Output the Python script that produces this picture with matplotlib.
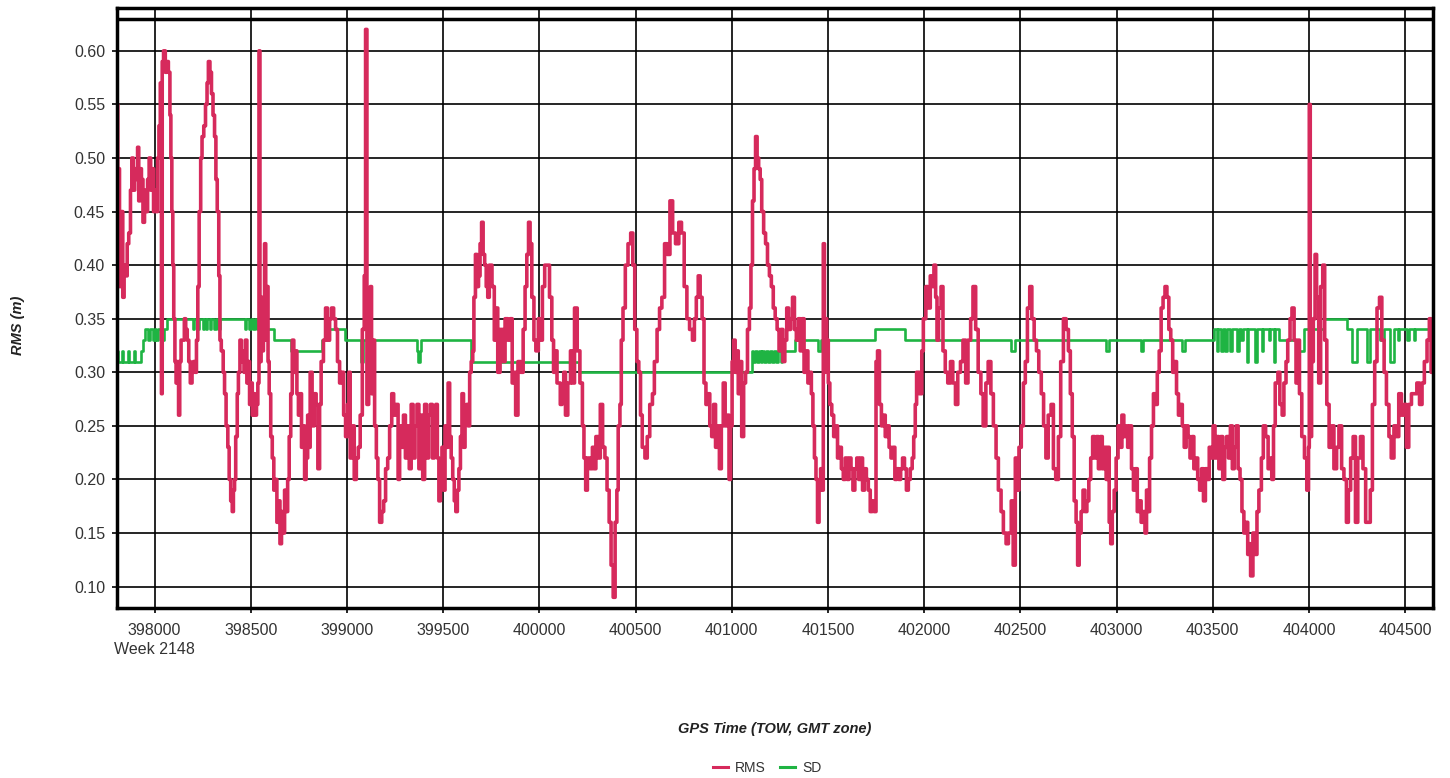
import numpy as np
import matplotlib
matplotlib.use("Agg")
import matplotlib.pyplot as plt
from matplotlib.lines import Line2D

plt.rcParams['font.family'] = ['Liberation Sans', 'DejaVu Sans']

# ---------------- data ----------------
rms_time = [
397807,397809,397812,397818,397825,397829,397835,397842,397850,397858,397866,397875,397882,397890,397897,397905,397912,397918,397925,397932,
397940,397948,397956,397964,397972,397980,397988,397995,398003,398009,398016,398023,398030,398036,398040,398047,398056,398064,398072,398080,
398085,398090,398095,398100,398106,398112,398118,398125,398131,398138,398148,398155,398162,398170,398178,398186,398195,398202,398210,398218,
398225,398232,398240,398247,398256,398265,398273,398280,398288,398296,398304,398312,398319,398326,398334,398340,398347,398357,398364,398372,
398381,398388,398396,398404,398410,398416,398422,398430,398436,398444,398451,398458,398465,398472,398480,398487,398494,398501,398508,398515,
398522,398530,398537,398543,398548,398554,398560,398566,398572,398578,398584,398590,398596,398604,398612,398620,398628,398636,398644,398652,
398660,398668,398676,398684,398692,398700,398708,398716,398724,398732,398740,398748,398756,398764,398772,398780,398788,398796,
398800,398809,398819,398830,398840,398849,398858,398866,398878,398889,398899,398910,398920,398931,398941,398951,398962,398972,398983,398993,
399003,399010,399017,399028,399038,399049,399059,399069,399080,399090,399097,399104,399113,399122,399128,399135,399144,399153,399161,399170,
399181,399191,399201,399212,399222,399233,399243,399255,399266,399274,399284,399294,399304,399314,399324,399334,399344,399354,399364,399374,
399384,399394,399404,399414,399424,399434,399444,399454,399462,399470,399478,399486,399494,399502,399510,399518,399526,399534,399542,399550,
399558,399566,399574,399582,399590,399598,399606,399614,399622,399630,399638,399646,399654,399660,399668,399676,399684,399692,399700,399708,
399716,399724,399732,
399740,399754,399766,399775,399784,399796,399810,399822,399836,399849,399859,399870,399877,399889,399903,399916,399926,399935,399944,399952,
399961,399972,399982,399995,400004,400016,400028,400042,400053,400065,400074,400083,400092,400109,400118,400127,400136,400148,400162,400171,
400183,400197,400211,400224,400232,400241,400250,400264,400276,400285,400294,400306,400317,400329,400341,400352,400363,400373,400384,400394,
400403,400410,400419,400426,400435,400447,400461,400475,400486,400496,400507,400517,400526,400535,400549,400561,400574,400588,400598,400612,
400625,400637,400651,400665,400679,400693,400708,400725,400739,400753,400767,400781,400796,
400806,400816,400826,400836,400846,400856,400866,400876,400886,400896,400906,400916,400926,400936,400946,400956,400966,400976,400986,400994,
401002,401010,401018,401026,401034,401044,401052,401062,401072,401082,401092,401100,401108,401116,401124,401132,401140,401148,401156,401166,
401176,401186,401196,401206,401216,401226,401236,401246,401256,401266,401276,401286,401296,401306,401316,401326,401336,401346,401356,401366,
401376,401386,401396,401406,401414,401422,401430,401438,401446,401454,401462,401470,401476,401482,401488,401494,401502,401510,401520,401530,
401540,401550,401560,401570,401580,401590,401600,401610,401620,401630,401640,401650,401660,401670,401680,401690,401700,401710,401720,401730,
401740,401750,
401758,401768,401778,401788,401798,401808,401818,401828,401838,401848,401858,401868,401878,401888,401898,401908,401918,401928,401938,401946,
401954,401961,401975,401988,401996,402009,402019,402032,402042,402051,402060,402067,402075,402088,402098,402110,402123,402137,402149,402163,
402175,402189,402202,402216,402228,402242,402254,402268,402281,402295,402307,402321,402333,402347,402360,402374,402386,402400,402412,402426,
402438,402453,402463,402474,402482,402493,402505,402516,402526,402537,402549,402560,402572,402584,402596,402609,402621,402633,402645,402660,
402672,402684,402698,402710,402724,402738,402750,
402760,402770,402780,402790,402798,402806,402816,402826,402836,402846,402856,402866,402876,402886,402896,402906,402916,402926,402936,402946,
402954,402962,402970,402978,402988,402998,403008,403018,403028,403038,403048,403058,403068,403078,403088,403098,403108,403118,403128,403138,
403148,403156,403164,403172,403182,403192,403202,403212,403222,403232,403242,403252,403262,403272,403282,403292,403302,403312,403322,403332,
403342,403352,403362,403372,403382,403392,403402,403412,403422,403432,403442,403452,403462,403472,403482,403492,403502,403512,403522,403532,
403542,403552,403562,403572,403582,403592,403602,403612,403622,403632,403642,403652,403662,403672,403682,
403688,403697,403709,403720,403730,403740,403753,403763,403775,403788,403798,403807,403816,403825,403839,403849,403861,403870,403881,403890,
403902,403912,403923,403933,403942,403951,403963,403977,403989,403998,404002,404007,404014,404023,404032,404040,404051,404061,404072,404082,
404093,404105,404118,404130,404144,404156,404170,404182,404195,404205,404217,404230,404242,404254,404268,404281,404295,404307,404319,404330,
404342,404354,404367,404379,404391,404403,404416,404428,404442,404454,404467,404481,404495,404507,404519,404533,404547,404561,404575,404588,
404600,404614,404626,404635,404642,
]

rms_value = [
0.55,0.42,0.49,0.38,0.44,0.45,0.37,0.40,0.39,0.42,0.43,0.47,0.50,0.47,0.49,0.48,0.51,0.46,0.49,0.48,
0.44,0.47,0.45,0.48,0.50,0.47,0.49,0.45,0.47,0.45,0.50,0.53,0.57,0.28,0.59,0.60,0.58,0.59,0.58,0.54,
0.50,0.45,0.40,0.35,0.31,0.29,0.31,0.26,0.31,0.33,0.33,0.35,0.34,0.33,0.31,0.29,0.30,0.31,0.30,0.33,
0.38,0.45,0.50,0.52,0.53,0.55,0.57,0.59,0.58,0.56,0.54,0.52,0.48,0.45,0.39,0.33,0.32,0.30,0.28,0.25,
0.23,0.20,0.18,0.17,0.19,0.20,0.24,0.28,0.30,0.33,0.31,0.32,0.30,0.33,0.29,0.31,0.27,0.29,0.26,0.28,
0.26,0.27,0.29,0.60,0.31,0.37,0.32,0.35,0.42,0.33,0.38,0.31,0.28,0.24,0.22,0.19,0.20,0.16,0.18,0.14,
0.17,0.15,0.19,0.17,0.20,0.24,0.28,0.33,0.30,0.32,0.28,0.26,0.28,0.23,0.25,0.20,0.22,0.26,
0.23,0.30,0.25,0.28,0.27,0.21,0.27,0.31,0.33,0.36,0.33,0.35,0.36,0.35,0.34,0.31,0.29,0.30,0.26,0.24,
0.27,0.30,0.22,0.25,0.20,0.22,0.23,0.26,0.34,0.39,0.62,0.27,0.35,0.38,0.28,0.33,0.25,0.22,0.20,0.16,
0.17,0.18,0.21,0.22,0.25,0.28,0.26,0.27,0.20,0.25,0.23,0.26,0.22,0.25,0.21,0.27,0.22,0.25,0.27,0.21,
0.26,0.20,0.27,0.22,0.26,0.27,0.22,0.26,0.27,0.22,0.18,0.21,0.23,0.19,0.25,0.23,0.29,0.24,0.22,0.20,
0.18,0.17,0.19,0.21,0.24,0.28,0.23,0.26,0.27,0.25,0.30,0.31,0.32,0.37,0.41,0.38,0.39,0.42,0.44,0.41,
0.40,0.38,0.37,
0.40,0.38,0.33,0.36,0.30,0.34,0.31,0.35,0.33,0.35,0.29,0.30,0.26,0.31,0.30,0.34,0.38,0.41,0.44,0.42,
0.37,0.33,0.32,0.35,0.33,0.38,0.40,0.40,0.37,0.33,0.30,0.32,0.29,0.27,0.28,0.30,0.26,0.29,0.32,0.29,
0.36,0.32,0.29,0.25,0.22,0.19,0.22,0.21,0.23,0.21,0.24,0.22,0.27,0.23,0.22,0.19,0.16,0.12,0.09,0.16,
0.19,0.25,0.27,0.33,0.36,0.40,0.42,0.43,0.40,0.34,0.31,0.30,0.26,0.23,0.22,0.24,0.27,0.28,0.31,0.34,
0.36,0.37,0.42,0.41,0.46,0.43,0.42,0.44,0.43,0.38,0.35,0.34,0.33,
0.35,0.37,0.39,0.37,0.35,0.29,0.27,0.28,0.25,0.24,0.27,0.23,0.25,0.21,0.25,0.29,0.25,0.26,0.20,0.25,
0.31,0.33,0.30,0.32,0.28,0.31,0.24,0.29,0.30,0.34,0.36,0.40,0.46,0.49,0.52,0.50,0.49,0.48,0.45,0.43,
0.42,0.40,0.39,0.38,0.36,0.35,0.34,0.32,0.34,0.31,0.33,0.36,0.34,0.35,0.37,0.34,0.33,0.35,0.32,0.35,
0.30,0.32,0.29,0.30,0.28,0.25,0.22,0.20,0.16,0.19,0.21,0.19,0.42,0.30,0.35,0.33,0.29,0.27,0.26,0.24,
0.25,0.22,0.23,0.21,0.20,0.22,0.20,0.22,0.21,0.19,0.21,0.22,0.20,0.22,0.19,0.21,0.20,0.19,0.17,0.18,
0.17,0.31,
0.32,0.27,0.25,0.26,0.24,0.25,0.23,0.22,0.23,0.20,0.21,0.20,0.21,0.22,0.21,0.19,0.20,0.21,0.22,0.24,
0.27,0.30,0.28,0.32,0.35,0.38,0.36,0.39,0.38,0.40,0.37,0.33,0.36,0.38,0.32,0.30,0.29,0.31,0.29,0.27,
0.30,0.31,0.33,0.29,0.33,0.35,0.38,0.34,0.30,0.28,0.25,0.29,0.31,0.28,0.25,0.22,0.19,0.17,0.15,0.14,
0.15,0.18,0.12,0.22,0.19,0.23,0.25,0.29,0.31,0.36,0.38,0.35,0.33,0.32,0.30,0.28,0.25,0.22,0.26,0.27,
0.21,0.20,0.24,0.31,0.35,0.34,0.32,
0.28,0.24,0.18,0.16,0.12,0.15,0.17,0.19,0.17,0.18,0.20,0.22,0.24,0.22,0.24,0.21,0.24,0.21,0.23,0.20,
0.23,0.16,0.14,0.17,0.19,0.22,0.25,0.23,0.26,0.24,0.25,0.23,0.25,0.21,0.19,0.21,0.17,0.18,0.16,0.17,
0.15,0.19,0.17,0.22,0.25,0.28,0.27,0.30,0.32,0.36,0.37,0.38,0.37,0.34,0.33,0.30,0.31,0.28,0.26,0.27,
0.25,0.23,0.25,0.24,0.22,0.24,0.21,0.22,0.20,0.19,0.21,0.18,0.21,0.20,0.23,0.22,0.25,0.22,0.24,0.21,
0.24,0.20,0.23,0.24,0.22,0.25,0.21,0.23,0.25,0.21,0.20,0.17,0.15,0.16,0.13,
0.14,0.11,0.15,0.13,0.17,0.19,0.22,0.25,0.24,0.21,0.22,0.20,0.25,0.29,0.30,0.27,0.26,0.29,0.31,0.33,
0.35,0.36,0.33,0.29,0.33,0.28,0.24,0.22,0.19,0.23,0.55,0.24,0.31,0.35,0.41,0.37,0.29,0.38,0.40,0.33,
0.27,0.23,0.25,0.21,0.23,0.25,0.21,0.20,0.16,0.19,0.22,0.24,0.16,0.22,0.24,0.21,0.16,0.16,0.19,0.27,
0.31,0.36,0.37,0.33,0.30,0.27,0.24,0.22,0.25,0.24,0.28,0.26,0.27,0.23,0.27,0.28,0.28,0.29,0.27,0.29,
0.31,0.33,0.35,0.30,0.34,
]

sd_time = [
397805,397812,397830,397836,397862,397868,397892,397898,397930,397941,397950,397965,397975,397990,398000,398010,398020,398040,398048,398066,
398200,398206,398222,398230,398250,398256,398268,398274,398290,398296,398310,398318,398330,398342,398470,398478,398490,398500,398512,398520,
398533,398620,398709,398870,398905,398990,399075,399085,399365,399372,399380,399386,399645,400206,401105,401112,401122,401130,401140,401150,
401158,401170,401180,401190,401198,401212,401220,401232,401240,401255,401262,401330,401447,401465,401745,401900,402453,402470,402945,402962,
403125,403140,403343,403358,403509,403520,403528,403545,403552,403565,403572,403590,403598,403628,403635,403648,403660,403678,403684,403720,
403728,403755,403762,403790,403800,403818,403826,403846,403951,403975,404080,404196,404223,404249,404302,404319,404372,404389,404424,404442,
404462,404470,404510,404518,404545,404552,404630,404645,
]
sd_value = [
0.32,0.31,0.32,0.31,0.32,0.31,0.32,0.31,0.32,0.33,0.34,0.33,0.34,0.33,0.34,0.33,0.34,0.33,0.34,0.35,
0.34,0.35,0.34,0.35,0.34,0.35,0.34,0.35,0.34,0.35,0.34,0.35,0.34,0.35,0.34,0.35,0.34,0.35,0.34,0.35,
0.34,0.33,0.32,0.33,0.34,0.33,0.31,0.33,0.32,0.31,0.32,0.33,0.31,0.30,0.32,0.31,0.32,0.31,0.32,0.31,
0.32,0.31,0.32,0.31,0.32,0.31,0.32,0.31,0.32,0.31,0.32,0.33,0.32,0.33,0.34,0.33,0.32,0.33,0.32,0.33,
0.32,0.33,0.32,0.33,0.34,0.32,0.34,0.32,0.34,0.32,0.34,0.32,0.34,0.32,0.34,0.33,0.34,0.31,0.34,0.31,
0.34,0.32,0.34,0.33,0.34,0.31,0.34,0.33,0.32,0.34,0.35,0.34,0.31,0.34,0.31,0.34,0.33,0.34,0.31,0.34,
0.33,0.34,0.33,0.34,0.33,0.34,0.35,0.35,
]

y_ticks = [0.10, 0.15, 0.20, 0.25, 0.30, 0.35, 0.40, 0.45, 0.50, 0.55, 0.60]
x_ticks = [398000, 398500, 399000, 399500, 400000, 400500, 401000, 401500,
           402000, 402500, 403000, 403500, 404000, 404500]
x_tick_labels = ["398000\nWeek 2148"] + [str(v) for v in x_ticks[1:]]

RMS_COLOR = '#D62A5C'
SD_COLOR = '#1FB443'

# ---------------- figure ----------------
W, H = 1450, 778
fig = plt.figure(figsize=(W / 100, H / 100), dpi=100)
ax = fig.add_axes([117 / W, 1 - 608 / H, (1433 - 117) / W, (608 - 8) / H])

ax.plot(sd_time, sd_value, color=SD_COLOR, lw=1.9, drawstyle='steps-post', zorder=3)
ax.plot(rms_time, rms_value, color=RMS_COLOR, lw=2.6, drawstyle='steps-post', zorder=4)

ax.set_xlim(397805, 404645)
ax.set_ylim(0.08, 0.64)
ax.set_yticks(y_ticks)
ax.set_yticklabels([f"{v:.2f}" for v in y_ticks])
ax.set_xticks(x_ticks)
ax.set_xticklabels(x_tick_labels, linespacing=1.35)

ax.set_axisbelow(True)
ax.grid(True, color='black', lw=1.2)
ax.axhline(0.63, color='black', lw=2.5, zorder=5)
for s in ax.spines.values():
    s.set_linewidth(2.5)
    s.set_color('black')
    s.set_zorder(6)

ax.tick_params(axis='both', direction='out', length=3.6, width=1.2, color='black',
               labelcolor='#333333', labelsize=11.5)
ax.tick_params(axis='y', pad=5)
ax.tick_params(axis='x', pad=7)

fig.text(775 / W, 1 - 729 / H, "GPS Time (TOW, GMT zone)", ha='center', va='center',
         fontsize=10.5, fontweight='bold', style='italic', color='#222222')
fig.text(18 / W, 1 - 325 / H, "RMS (m)", ha='center', va='center', rotation=90,
         fontsize=10.5, fontweight='bold', style='italic', color='#222222')

handles = [Line2D([], [], color=RMS_COLOR, lw=2.2), Line2D([], [], color=SD_COLOR, lw=2.2)]
fig.legend(handles, ["RMS", "SD"], loc='center', bbox_to_anchor=(767 / W, 1 - 768 / H),
           ncol=2, frameon=False, fontsize=10, handlelength=1.1, handletextpad=0.5,
           columnspacing=1.0, labelcolor='#333333')

fig.savefig("out.png", dpi=100)
